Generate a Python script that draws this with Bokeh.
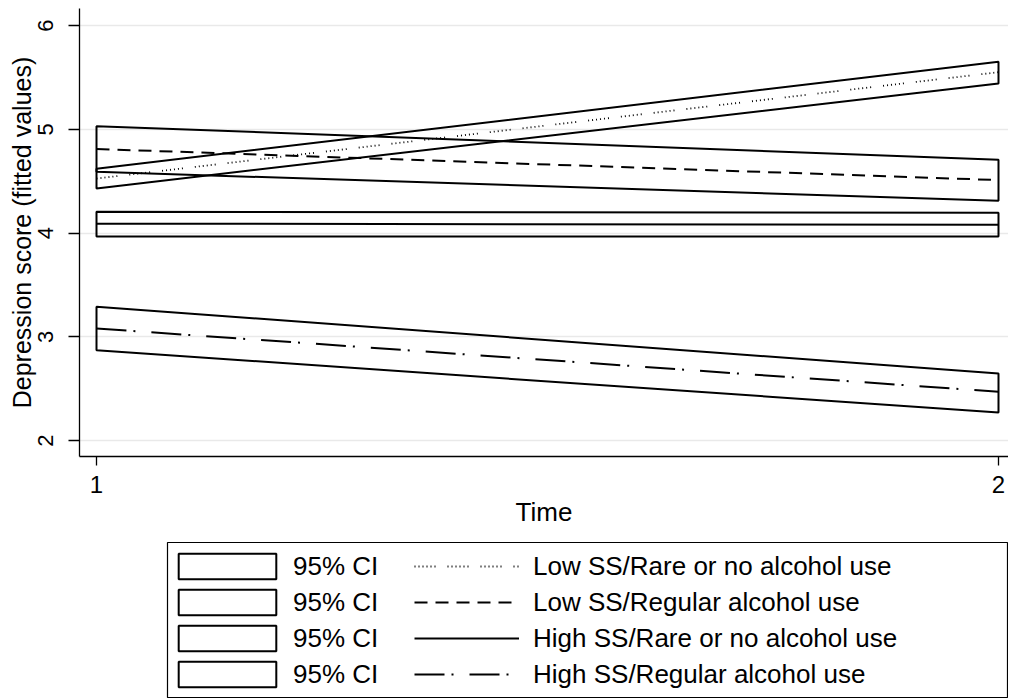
from bokeh.plotting import figure
from bokeh.models import Range1d, FixedTicker, Legend, LegendItem
from bokeh.layouts import column
from bokeh.embed import file_html
from bokeh.resources import INLINE

# ---- data ----
time = [1, 2]

low_rare_fit = [4.525, 5.55]
low_rare_lo = [4.43, 5.44]
low_rare_hi = [4.62, 5.65]

low_reg_fit = [4.81, 4.51]
low_reg_lo = [4.59, 4.31]
low_reg_hi = [5.03, 4.705]

high_rare_fit = [4.09, 4.08]
high_rare_lo = [3.966, 3.966]
high_rare_hi = [4.205, 4.195]

high_reg_fit = [3.08, 2.47]
high_reg_lo = [2.87, 2.27]
high_reg_hi = [3.29, 2.645]

series_labels = [
    "Low SS/Rare or no alcohol use",
    "Low SS/Regular alcohol use",
    "High SS/Rare or no alcohol use",
    "High SS/Regular alcohol use",
]
ci_label = "95% CI"
x_ticks = [1, 2]
y_ticks = [2, 3, 4, 5, 6]

FONT = "Liberation Sans"

dash_styles = ["1 3 1 3 1 3 1 3 1 3 1 12", "13 8", "solid", "30 7 2 16"]
dash_widths = [1.8, 2, 2, 2]

bands = [
    (low_rare_lo, low_rare_hi, low_rare_fit),
    (low_reg_lo, low_reg_hi, low_reg_fit),
    (high_rare_lo, high_rare_hi, high_rare_fit),
    (high_reg_lo, high_reg_hi, high_reg_fit),
]

# ---- main plot ----
p = figure(width=1008, height=538, output_backend="svg", toolbar_location=None,
           x_range=Range1d(0.98115, 2.01109), y_range=Range1d(1.8458, 6.1639),
           min_border_left=79, min_border_right=0, min_border_top=8, min_border_bottom=82)
p.frame_align = False
p.outline_line_color = None
p.background_fill_color = "white"

for (lo, hi, fit), dash, lw in zip(bands, dash_styles, dash_widths):
    xs = list(time) + list(time[::-1])
    ys = list(lo) + list(hi[::-1])
    p.patch(xs, ys, fill_alpha=0, line_color="black", line_width=2)
    p.line(time, fit, line_color="black", line_width=lw, line_dash=dash)

p.xgrid.grid_line_color = None
p.ygrid.grid_line_color = "#e9e9e9"
p.ygrid.grid_line_width = 1.5
p.ygrid.ticker = FixedTicker(ticks=y_ticks)

p.xaxis.ticker = FixedTicker(ticks=x_ticks)
p.yaxis.ticker = FixedTicker(ticks=y_ticks)
for ax in (p.xaxis[0], p.yaxis[0]):
    ax.axis_line_color = "black"
    ax.axis_line_width = 1.3
    ax.major_tick_line_color = "black"
    ax.major_tick_line_width = 1.3
    ax.major_tick_in = 0
    ax.minor_tick_line_color = None
    ax.major_label_text_font = FONT
    ax.major_label_text_color = "black"
    ax.major_label_text_font_size = "24px"
    ax.axis_label_text_font = FONT
    ax.axis_label_text_font_style = "normal"
    ax.axis_label_text_color = "black"
    ax.axis_label_text_font_size = "25px"

p.xaxis.major_tick_out = 9
p.xaxis.major_label_standoff = 10
p.xaxis.axis_label = "Time"
p.xaxis.axis_label_text_font_size = "26px"
p.xaxis.axis_label_standoff = 1

p.yaxis.major_tick_out = 11
p.yaxis.major_label_orientation = "vertical"
p.yaxis.major_label_text_font_size = "22px"
p.yaxis.major_label_standoff = 15
p.yaxis.axis_label = "Depression score (fitted values)"
p.yaxis.axis_label_standoff = 0

# ---- legend panel ----
lg = figure(width=1008, height=160, output_backend="svg", toolbar_location=None,
            x_range=Range1d(0, 1), y_range=Range1d(0, 1),
            x_axis_type=None, y_axis_type=None,
            min_border_left=167, min_border_right=0, min_border_top=4, min_border_bottom=0)
lg.frame_align = False
lg.outline_line_color = "black"
lg.outline_line_width = 1.2
lg.grid.visible = False

nan = float("nan")
ci_items = []
line_items = []
for lab, dash, lw in zip(series_labels, dash_styles, dash_widths):
    r_ci = lg.patch(x=[nan], y=[nan], fill_color="white", fill_alpha=0,
                    line_color="black", line_width=2)
    r_ln = lg.line(x=[nan], y=[nan], line_color="black", line_width=lw, line_dash=dash)
    ci_items.append(LegendItem(label=ci_label, renderers=[r_ci]))
    line_items.append(LegendItem(label=lab, renderers=[r_ln]))

common = dict(orientation="vertical", glyph_height=32, label_height=32, spacing=4,
              padding=0, margin=0, border_line_alpha=0, background_fill_alpha=0,
              label_text_font=FONT, label_text_font_size="26px", label_text_color="black")

legend_ci = Legend(items=ci_items, location=(-1, 8), glyph_width=122,
                   label_standoff=5, **common)
legend_ln = Legend(items=line_items, location=(247, 8), glyph_width=105,
                   label_standoff=14, **common)
lg.add_layout(legend_ci, "center")
lg.add_layout(legend_ln, "center")

layout = column(p, lg, spacing=0)
open("out.html", "w").write(file_html(layout, INLINE))
